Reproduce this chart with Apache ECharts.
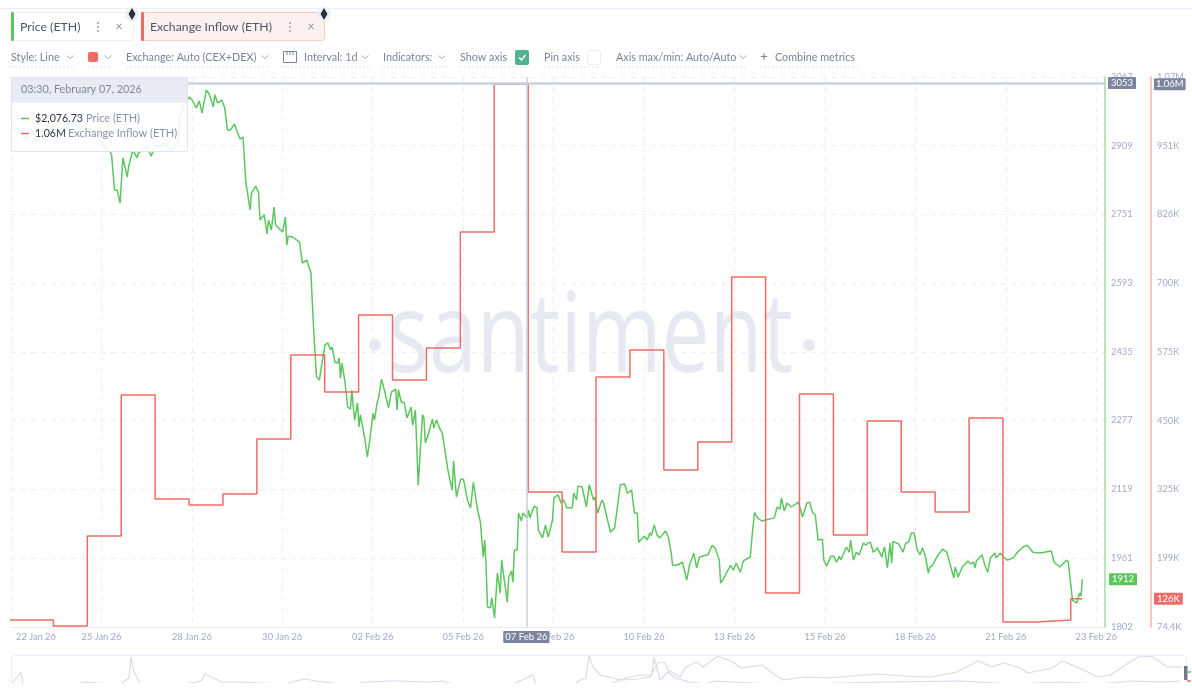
<!DOCTYPE html>
<html><head><meta charset="utf-8">
<style>html,body{margin:0;padding:0;background:#fff}#c{width:1192px;height:696px}</style>
<script src="https://cdn.jsdelivr.net/npm/echarts@6/dist/echarts.min.js"></script>
</head><body><div id="c"></div>
<script>
// ---- data ----
const priceHours=[0,3,7,10,14,17,21,24,28,31,35,38,42,45,48,51,55,58,62,65,69,70,72,74,76,78,81,82,85,88,89,92,95,98,101,104,108,111,113,117,118,122,125,127,130,132,134,137,139,142,143,145,148,150,152,154,157,159,161,163,165,166,168,169,172,174,175,178,180,181,183,185,186,191,193,194,195,198,203,205,208,211,213,215,217,219,221,223,225,226,228,230,231,232,233,235,237,239,240,241,242,244,245,246,249,251,253,255,256,258,259,261,263,266,268,271,272,273,275,277,279,282,283,285,287,290,291,292,294,297,298,300,302,304,308,311,312,314,317,319,322,324,326,329,331,333,334,335,336,338,339,341,343,345,346,350,351,353,354,355,357,358,360,361,364,365,366,369,371,372,375,377,379,382,383,386,388,390,392,396,397,399,400,403,406,408,411,412,414,417,418,423,426,430,433,435,438,440,442,443,447,449,451,452,454,456,458,462,464,466,467,470,474,477,479,482,484,486,492,495,497,498,500,501,504,505,508,510,512,515,517,522,523,525,527,530,539,541,543,544,546,548,551,556,559,562,564,566,568,570,573,574,576,579,581,583,585,586,590,592,593,595,597,599,602,604,605,607,609,612,615,617,619,620,621,622,623,627,630,632,634,636,638,640,642,644,646,648,649,651,654,658,661,663,666,667,669,672,676,678,680,681,682,686,688,690,692,695,696,699,701,704,708,711,715,718,722,727,735,737,741,746,747,750,753,755,756,757];
const priceValues=[2945,2952,2934,2922,2941,2918,2945,2927,2952,2957,2938,2957,2964,2957,2950,2952,2945,2934,2922,2904,2895,2888,2807,2807,2777,2881,2837,2860,2899,2881,2892,2899,2908,2885,2910,2906,2917,2899,2899,2915,2975,3007,3021,3014,2996,3012,2984,3037,3028,2998,3026,3007,3014,2996,2945,2945,2959,2940,2924,2929,2825,2825,2761,2800,2816,2800,2738,2750,2706,2738,2715,2768,2727,2710,2745,2680,2701,2699,2687,2639,2646,2618,2485,2377,2370,2411,2451,2455,2439,2446,2411,2409,2421,2375,2409,2370,2308,2303,2347,2308,2278,2317,2262,2290,2239,2193,2239,2294,2278,2319,2329,2372,2347,2306,2342,2349,2301,2347,2319,2319,2283,2308,2266,2301,2128,2290,2283,2225,2244,2280,2260,2278,2260,2248,2163,2117,2184,2101,2142,2142,2092,2076,2135,2071,2043,1963,2002,1944,1848,1846,1869,1823,1926,1880,1956,1859,1917,1931,1905,1979,1979,2064,2046,2064,2053,2071,2053,2080,2076,2025,2007,2037,2009,2048,2099,2106,2087,2094,2076,2076,2110,2094,2126,2124,2078,2129,2094,2101,2064,2094,2089,2020,2030,2129,2131,2110,2117,2064,2064,1997,2011,2002,2018,2013,2037,2013,2007,2023,2009,1972,1944,1944,1951,1910,1944,1972,1938,1963,1968,1990,1984,1988,1956,1903,1919,1915,1944,1933,1949,1928,1954,1963,2002,2066,2053,2046,2053,2078,2073,2099,2069,2087,2078,2089,2055,2087,2089,2066,2059,2002,2004,1956,1942,1965,1965,1951,1965,1956,1986,1974,2002,1956,1974,1968,1995,1990,1995,1997,1974,1984,1963,1986,1938,1968,1995,1949,1999,1993,1974,1995,1997,2018,2018,1981,1968,1984,1963,1926,1940,1944,1963,1981,1974,1951,1915,1940,1917,1940,1954,1947,1951,1938,1954,1968,1944,1928,1961,1972,1961,1972,1963,1956,1961,1974,1986,1990,1974,1972,1977,1951,1940,1956,1951,1864,1857,1880,1873,1912];
const inflowDays=['01-22','01-23','01-24','01-25','01-26','01-27','01-28','01-29','01-30','01-31','02-01','02-02','02-03','02-04','02-05','02-06','02-07','02-08','02-09','02-10','02-11','02-12','02-13','02-14','02-15','02-16','02-17','02-18','02-19','02-20','02-21','02-22','02-23'];
const inflowValues=[87,87,76,240,497,307.5,296.6,316.6,416.8,569.7,502.4,642.6,524.2,582.5,793.7,1063,320.3,211,529.7,578.8,360.3,411.3,711.8,136.3,498.7,242,449.5,320.3,283.8,455,83.5,87,126];
const priceTicks=[1802,1961,2119,2277,2435,2593,2751,2909,3067];
const inflowTicks=[74.4,199.6,325,450,575.2,700.4,826,951,1076];
const inflowTickLabels=['74.4K','199K','325K','450K','575K','700K','826K','951K','1.07M'];
const xTickHours=[-1.2,62.8,126.8,190.8,254.8,318.8,382.8,446.8,510.8,574.8,638.8,702.8,766.8];
const overviewInflowX=[0,10,12,60,75,108,118,120,123,130,165,186,191,194,211,228,274,284,295,304,340,354,379,387,418,431,442,500,522,525,563,569,575,578,582,589,597,612,627,639,641,643,649,657,664,679,694,704,759,789,874,949,1004,1049,1089,1119,1149,1169];
const overviewInflowY=[-2,11,-2,-2,1,-2,5,26,11,-2,-2,1,3,9,1,1,-1,2,4,2,-2,1,2,2,1,2,-1,-2,8,-2,-2,3,5,27,16,8,6,3,4,6,9,26,3,11,5,1,-1,2,-1,-1,1,2,-1,1,-1,2,1,2];
const overviewPriceX=[599,609,619,629,639,648,654,657,669,675,686,692,707,722,730,751,760,772,794,817,867,893,920,946,967,981,992,1007,1017,1041,1051,1066,1087,1099,1110,1119,1129,1142,1156,1171];
const overviewPriceY=[-1,3,6,8,7,21,20,13,6,16,21,16,27,21,15,18,11,3,6,5,9,7,6,11,22,16,20,16,10,15,22,16,6,8,15,21,27,26,16,16];
const seriesNames=['Price (ETH)','Exchange Inflow (ETH)'];
const GREEN='#5cc75f',RED='#ee6c64',GREY='#7a8499',TAG='#7b869e',TICK='#a3abc4',F='Lato, "Open Sans", sans-serif';
const T0=new Date(2026,0,23).getTime(),H=3600000;
const tAt=h=>T0+h*H;
const priceData=priceHours.map((h,i)=>[tAt(h),priceValues[i]]);
const inflowData=inflowDays.map((d,i)=>[new Date(2026,+d.slice(0,2)-1,+d.slice(3),4,48).getTime(),inflowValues[i]]);
inflowData.push([tAt(757),inflowValues[inflowValues.length-1]]);
const MON=['Jan','Feb','Mar'];
const fmtDay=v=>{const d=new Date(v);return String(d.getDate()).padStart(2,'0')+' '+MON[d.getMonth()]+' 26'};
const zipXY=(a,b)=>a.map((x,i)=>[x,b[i]]);

// ---- page chrome (metric chips, toolbar, hover card, watermark) ----
const g=[];
const txt=(x,y,s,o={})=>g.push({type:'text',x,y,z:o.z||50,style:{text:s,fill:o.c||GREY,font:(o.w||'normal')+' '+(o.s||10.8)+'px '+F,textVerticalAlign:'middle',textAlign:o.a||'left',opacity:o.o==null?1:o.o}});
const rect=(x,y,w,h,fill,stroke,z,r)=>g.push({type:'rect',z:z||40,shape:{x,y,width:w,height:h,r:r||0},style:{fill:fill||'transparent',stroke:stroke||null,lineWidth:1}});
const line=(x1,y1,x2,y2,c,w,d,z)=>g.push({type:'line',z:z||45,shape:{x1,y1,x2,y2},style:{stroke:c,lineWidth:w||1,lineDash:d||null}});
const chev=(x,y)=>g.push({type:'polyline',z:45,shape:{points:[[x-3.5,y-1.5],[x,y+1.5],[x+3.5,y-1.5]]},style:{stroke:'#a3abc0',lineWidth:1,fill:'none'}});
const eth=(x,y)=>{g.push({type:'circle',z:46,shape:{cx:x,cy:y,r:7},style:{fill:'#eef0f5'}});
 g.push({type:'polygon',z:47,shape:{points:[[x,y-6],[x+3.5,y],[x,y+6],[x-3.5,y]]},style:{fill:'#2b2f3a'}});};
const dots=(x,y)=>[-4,0,4].forEach(d=>g.push({type:'circle',z:46,shape:{cx:x,cy:y+d,r:.9},style:{fill:'#8e97ad'}}));
const under=(x1,x2)=>line(x1,67,x2,67,'#dfe2ea',1,[2,2]);
line(0,8.5,1192,8.5,'#eceef6',1);
rect(12.5,12.5,121,28,'#fff','#eef0f5',40,3); rect(11,12,3,29,GREEN,null,41,1);
txt(20,27,seriesNames[0],{s:12.3,c:'#4d566c'}); dots(98,27); txt(119,26.5,'×',{s:13,c:'#8e97ad',a:'center'}); eth(132,14);
rect(142.5,12.5,182,28,'#fdf1f0','#f8c9c5',40,3); rect(141,12,3,29,RED,null,41,1);
txt(150,27,seriesNames[1],{s:12.3,c:'#4d566c'}); dots(290,27); txt(311,26.5,'×',{s:13,c:'#8e97ad',a:'center'}); eth(324,14);
txt(11,57.5,'Style: Line'); chev(70,57); under(11,74);
rect(88,52,10,10,RED,null,45,2); chev(108,57); under(88,112);
txt(126,57.5,'Exchange: Auto (CEX+DEX)'); chev(265,57); under(126,268);
rect(283.5,51.5,13,11,'#fff','#7a8499',45,0); line(287,51.5,287,55,'#7a8499'); line(290,51.5,290,55,'#7a8499'); line(293,51.5,293,55,'#7a8499');
txt(304,57.5,'Interval: 1d'); chev(365,57); under(283,369);
txt(383,57.5,'Indicators:'); chev(442,57); under(383,446);
txt(460,57.5,'Show axis'); rect(515,50,14,15,'#4fb48f',null,45,2);
g.push({type:'polyline',z:46,shape:{points:[[519,57.5],[521.5,60],[525.5,55]]},style:{stroke:'#fff',lineWidth:1.4,fill:'none'}}); under(460,528);
txt(544,57.5,'Pin axis'); rect(587.5,50.5,13,14,'#fff','#eceef4',45,2); under(544,600);
txt(616,57.5,'Axis max/min: Auto/Auto'); chev(743,57); under(616,747);
txt(764,57,'+',{s:13,a:'center'}); txt(775,57.5,'Combine metrics'); under(760,857);
// watermark
g.push({type:'text',x:388,y:396,z:-1,scaleY:1.3,style:{text:'santiment',fill:'#e6e9f2',font:'normal 86px "Open Sans", sans-serif',textVerticalAlign:'bottom'}});
g.push({type:'circle',z:-1,shape:{cx:375,cy:345,r:6},style:{fill:'#e6e9f2'}});
g.push({type:'circle',z:-1,shape:{cx:809,cy:345,r:6},style:{fill:'#e6e9f2'}});
// hover card
g.push({type:'rect',z:60,shape:{x:11.5,y:77.5,width:176,height:74},style:{fill:'rgba(255,255,255,.88)',stroke:'#e2e5ef',lineWidth:1}});
g.push({type:'rect',z:61,shape:{x:12,y:78,width:175,height:24.5},style:{fill:'#e8ebf4'}});
const tz={z:62};
txt(21,89.5,'03:30, February 07, 2026',{...tz,s:10.8,c:'#7d879c'});
line(21,118.5,29,118.5,GREEN,1.5,null,62); line(21,133.5,29,133.5,RED,1.5,null,62);
txt(35,118.5,'$2,076.73',{...tz,s:10.6,c:'#2e3548'}); txt(86,118.5,seriesNames[0],{...tz,s:11,c:'#8a93a8'});
txt(35,133.5,'1.06M',{...tz,s:10.6,c:'#2e3548'}); txt(68,133.5,seriesNames[1],{...tz,s:11,c:'#8a93a8'});
// overview frame
g.push({type:'rect',z:30,shape:{x:11.5,y:655.5,width:1175,height:50,r:3},style:{fill:'none',stroke:'#eceef6',lineWidth:1}});
rect(0,683,1192,13,'#fff',null,35);
rect(1184,666,3.5,14,'#6f7a91',null,36);
line(1187,672,1191,672,GREEN,1.5,null,36); line(1187,681,1191,681,RED,1.5,null,36);

const ptrLabel={show:true,backgroundColor:TAG,color:'#fff',fontFamily:F,fontSize:9.5,padding:[1,2,1,2],borderRadius:1};
const ptrLine={color:'#c9cfe0',width:1.5,type:'solid'};
const dash={show:true,lineStyle:{color:'#eceef6',width:1,type:[5,5]}};
const tagLine=(text,val,bg,dist)=>({silent:true,symbol:'none',animation:false,clip:false,lineStyle:{color:'rgba(0,0,0,0)',width:1},
  data:[{yAxis:val}],label:{show:true,position:'end',distance:dist,backgroundColor:bg,color:'#fff',fontFamily:F,fontSize:9.5,padding:[1,3,1,3],borderRadius:1,formatter:()=>text}});

const chart=echarts.init(document.getElementById('c'),null,{renderer:'canvas'});
chart.setOption({
  animation:false,backgroundColor:'#fff',tooltip:{show:false},
  axisPointer:{triggerOn:'none'},
  grid:[{left:11,top:77,width:1094,height:550},{left:11,top:656,width:1174,height:27}],
  xAxis:[
   {type:'value',gridIndex:0,min:tAt(-1.2),max:tAt(773),scale:true,
    axisLine:{show:true,onZero:false,lineStyle:{color:'#e9ebf3',width:1}},
    axisTick:{show:false,customValues:xTickHours.map(tAt)},
    splitLine:dash,
    axisLabel:{customValues:xTickHours.map(tAt),formatter:v=>v===tAt(xTickHours[0])?'{first|'+fmtDay(v)+'}':fmtDay(v),
      rich:{first:{padding:[0,0,0,5],color:TICK,fontFamily:F,fontSize:9.3}},
      color:TICK,fontFamily:F,fontSize:9.3,margin:5,hideOverlap:false,alignMinLabel:'left',alignMaxLabel:'center'},
    axisPointer:{show:true,type:'line',snap:false,status:'show',value:tAt(363.5),triggerTooltip:false,lineStyle:ptrLine,
      label:{...ptrLabel,margin:4,formatter:p=>fmtDay(p.value)}}},
   {type:'value',gridIndex:1,min:0,max:1174,show:false}
  ],
  yAxis:[
   {type:'value',gridIndex:0,position:'right',min:1802,max:3067,
    axisLine:{show:true,lineStyle:{color:'#9fdf9c',width:1.5}},
    axisTick:{show:false,customValues:priceTicks},splitLine:dash,
    axisLabel:{customValues:priceTicks,formatter:v=>String(v),color:TICK,fontFamily:F,fontSize:9.3,margin:6},
    axisPointer:{show:true,type:'line',snap:false,status:'show',value:3053,triggerTooltip:false,lineStyle:ptrLine,
      label:{...ptrLabel,margin:3,padding:[1,3,1,3],formatter:p=>String(Math.round(p.value))}}},
   {type:'value',gridIndex:0,position:'right',offset:46,min:74.4,max:1076,
    axisLine:{show:true,lineStyle:{color:'#f8b2ae',width:1.5}},
    axisTick:{show:false,customValues:inflowTicks},splitLine:{show:false},
    axisLabel:{customValues:inflowTicks,color:TICK,fontFamily:F,fontSize:9.3,margin:6,
      formatter:v=>inflowTickLabels[inflowTicks.indexOf(v)]},
    axisPointer:{show:true,type:'line',snap:false,status:'show',value:1063,triggerTooltip:false,lineStyle:ptrLine,
      label:{...ptrLabel,margin:3,formatter:()=>'1.06M'}}},
   {type:'value',gridIndex:1,min:0,max:27,show:false}
  ],
  graphic:{elements:g},
  series:[
   {name:seriesNames[0],type:'line',xAxisIndex:0,yAxisIndex:0,data:priceData,showSymbol:false,symbol:'none',lineStyle:{color:GREEN,width:1.5},z:3,
    markLine:tagLine('1912',1912,GREEN,4)},
   {name:seriesNames[1],type:'line',xAxisIndex:0,yAxisIndex:1,step:'end',data:inflowData,showSymbol:false,symbol:'none',lineStyle:{color:RED,width:1.5},z:4,clip:true,
    markLine:tagLine('126K',126,RED,49)},
   {type:'line',xAxisIndex:1,yAxisIndex:2,data:zipXY(overviewInflowX,overviewInflowY),showSymbol:false,symbol:'none',lineStyle:{color:'#d8dbe9',width:1.2},clip:true},
   {type:'line',xAxisIndex:1,yAxisIndex:2,data:zipXY(overviewPriceX,overviewPriceY),showSymbol:false,symbol:'none',lineStyle:{color:'#d8dbe9',width:1.2},clip:true}
  ]
});
</script></body></html>
